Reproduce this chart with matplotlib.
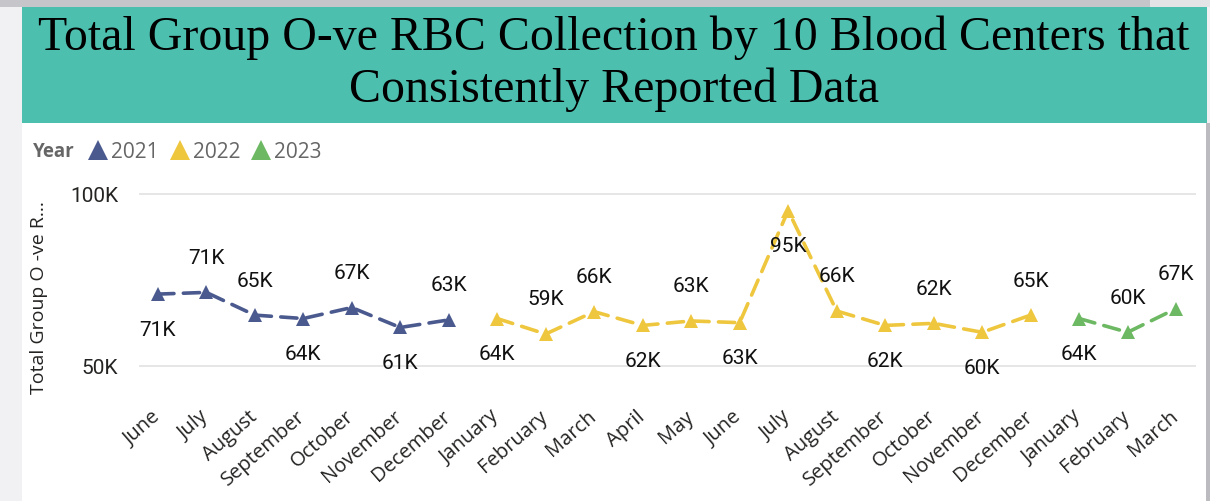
import matplotlib
matplotlib.use("Agg")
import matplotlib.pyplot as plt
import matplotlib.transforms as mtransforms
from matplotlib.patches import Rectangle
from matplotlib.lines import Line2D

# ---------------- data ----------------
months = ["June", "July", "August", "September", "October", "November", "December",
          "January", "February", "March", "April", "May", "June", "July", "August",
          "September", "October", "November", "December", "January", "February", "March"]
years = ["2021", "2022", "2023"]
idx_2021 = list(range(0, 7))
idx_2022 = list(range(7, 19))
idx_2023 = list(range(19, 22))
vals_2021 = [70900, 71400, 64800, 63800, 67000, 61200, 63400]
vals_2022 = [63800, 59300, 65800, 61800, 63100, 62600, 95200, 66000, 61800, 62400, 59800, 64800]
vals_2023 = [63800, 59800, 66700]
yticks = [50000, 100000]
ytick_labels = ["50K", "100K"]
# label placement for each point (a = above, b = below)
label_pos = ["b", "a", "a", "b", "a", "b", "a",
             "b", "a", "a", "b", "a", "b", "b", "a", "b", "a", "b", "a",
             "b", "a", "a"]

colors = {"2021": "#4B5A8E", "2022": "#EEC73F", "2023": "#6DB862"}

W, H = 1210, 501
fig = plt.figure(figsize=(W / 100, H / 100), dpi=100)
fig.patch.set_facecolor("#f1f1f3")

def px_rect(x0, y0, x1, y1, color, z=0):
    fig.add_artist(Rectangle((x0 / W, 1 - y1 / H), (x1 - x0) / W, (y1 - y0) / H,
                             transform=fig.transFigure, facecolor=color,
                             edgecolor="none", zorder=z))

px_rect(0, 0, W, 7, "#c6c6ca", 0)
px_rect(1150, 0, W, 7, "#e4e4e6", 0)
px_rect(1206, 123, W, H, "#bcbcc0", 0)
px_rect(22, 123, 1206, H, "#ffffff", 0)
px_rect(22, 7, 1207, 123, "#4DBFAF", 0)

# title
fig.text(614 / W, 1 - 50 / H, "Total Group O-ve RBC Collection by 10 Blood Centers that",
         ha="center", va="baseline", fontsize=34.5, family="Liberation Serif", color="black")
fig.text(614 / W, 1 - 102 / H, "Consistently Reported Data",
         ha="center", va="baseline", fontsize=34.5, family="Liberation Serif", color="black")

# axes
ax = fig.add_axes([139 / W, 1 - 400 / H, (1196 - 139) / W, 220 / H])
ax.set_facecolor("none")
ax.set_xlim(-0.386, 21.41)
ax.set_ylim(40120, 104070)
for s in ax.spines.values():
    s.set_visible(False)
ax.set_yticks(yticks)
ax.set_yticklabels(ytick_labels, family="Roboto", fontsize=15, color="#252423")
ax.yaxis.grid(True, color="#e6e6e6", lw=1.4)
ax.set_axisbelow(True)
ax.tick_params(axis="y", length=0, pad=15)
ax.tick_params(axis="x", length=0, pad=5)
ax.set_xticks(range(len(months)))
ax.set_xticklabels(months, rotation=41, ha="right", va="top", rotation_mode="anchor",
                   family="Open Sans", fontsize=14.5, color="#252423")
shift = mtransforms.ScaledTranslation(-7 / 100, 0, fig.dpi_scale_trans)
for lbl in ax.get_xticklabels():
    lbl.set_transform(lbl.get_transform() + shift)

ax.set_ylabel("Total Group O -ve R...", family="Open Sans", fontsize=14, color="#252423")
ax.yaxis.set_label_coords(-0.086, 0.4636)

series = [("2021", idx_2021, vals_2021), ("2022", idx_2022, vals_2022), ("2023", idx_2023, vals_2023)]
for yr, xs, vs in series:
    ax.plot(xs, vs, color=colors[yr], lw=2.6, ls=(0, (4.5, 2.6)), marker="^",
            markersize=10.5, markeredgewidth=0, zorder=3, dash_capstyle="round")

all_x = idx_2021 + idx_2022 + idx_2023
all_v = vals_2021 + vals_2022 + vals_2023
for x, v, p in zip(all_x, all_v, label_pos):
    off = 24.5 if p == "a" else -26
    ax.annotate(f"{round(v / 1000)}K", (x, v), xytext=(0, off), textcoords="offset points",
                ha="center", va="center", family="Roboto", fontsize=15, color="#111111",
                zorder=4)

# legend
fig.text(33 / W, 1 - 152 / H, "Year", ha="left", va="center", family="Open Sans",
         fontweight="bold", fontsize=13.5, color="#666666")
handles = [Line2D([], [], marker="^", ls="none", color=colors[y], markersize=14,
                  markeredgewidth=0) for y in years]
leg = fig.legend(handles, years, ncol=3, loc="center left",
                 bbox_to_anchor=(88 / W, 1 - 152 / H), frameon=False,
                 handlelength=1.0, handletextpad=0.12, columnspacing=0.5,
                 borderpad=0, borderaxespad=0,
                 prop={"family": "Open Sans", "size": 15})
for t in leg.get_texts():
    t.set_color("#666666")

fig.savefig("out.png", dpi=100, facecolor=fig.get_facecolor())
